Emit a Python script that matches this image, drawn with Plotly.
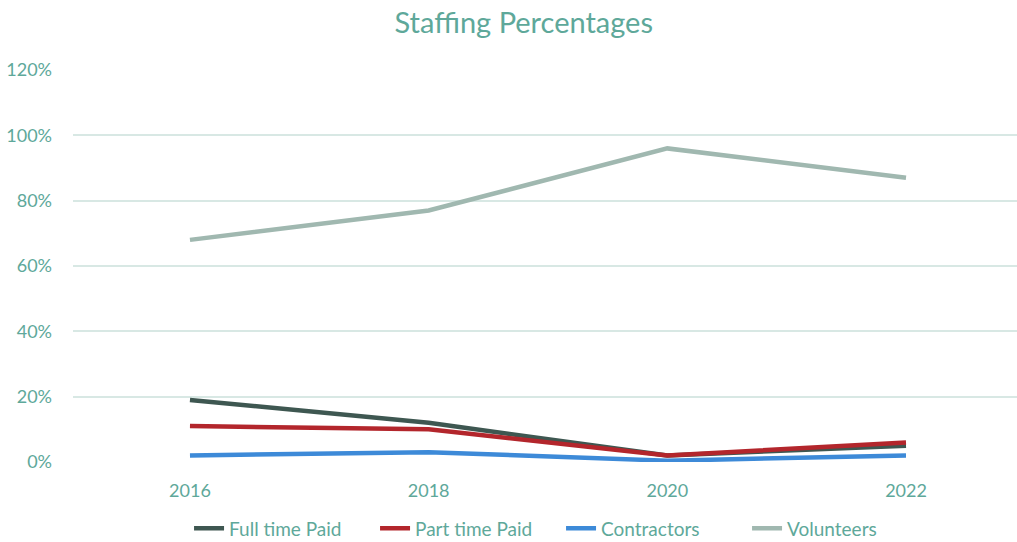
import plotly.graph_objects as go

years = ["2016", "2018", "2020", "2022"]
full_time_paid = [0.19, 0.12, 0.02, 0.05]
part_time_paid = [0.11, 0.10, 0.02, 0.06]
contractors = [0.02, 0.03, 0.004, 0.02]
volunteers = [0.68, 0.77, 0.96, 0.87]

series = [
    ("Full time Paid", full_time_paid, "#3e5751"),
    ("Part time Paid", part_time_paid, "#b3262c"),
    ("Contractors", contractors, "#3d8ad8"),
    ("Volunteers", volunteers, "#a0b8b0"),
]

text_color = "#5ea89a"
font_family = "Lato, 'Open Sans', sans-serif"

fig = go.Figure()
for name, vals, color in series:
    fig.add_trace(go.Scatter(
        x=years, y=vals, name=name, mode="lines",
        line=dict(color=color, width=4.5),
    ))

fig.update_layout(
    width=1017, height=542,
    paper_bgcolor="white", plot_bgcolor="white",
    margin=dict(l=73, r=0, t=70, b=80, autoexpand=False),
    title=dict(text="Staffing Percentages", x=0.515, xanchor="center",
               y=0.957, yanchor="middle",
               font=dict(family=font_family, size=29, color=text_color)),
    font=dict(family=font_family, size=18, color=text_color),
    legend=dict(orientation="h", x=0.517, xanchor="center",
                yref="container", y=0.025, yanchor="middle",
                font=dict(size=19, color=text_color),
                itemwidth=30, entrywidth=141, traceorder="normal"),
    showlegend=True,
)
# the category band runs slightly past the right edge of the page
fig.update_xaxes(type="category", range=[-0.49, 3.465], showgrid=False,
                 showline=False, ticks="", zeroline=False,
                 tickfont=dict(size=18, color=text_color), ticklabelstandoff=16)
fig.update_yaxes(range=[0, 1.2], dtick=0.2, tickformat=".0%",
                 gridcolor="#d8e8e4", gridwidth=1.5, zeroline=False,
                 showline=False, ticks="", ticklabelstandoff=20,
                 tickfont=dict(size=18, color=text_color))

fig.write_html("out.html")
